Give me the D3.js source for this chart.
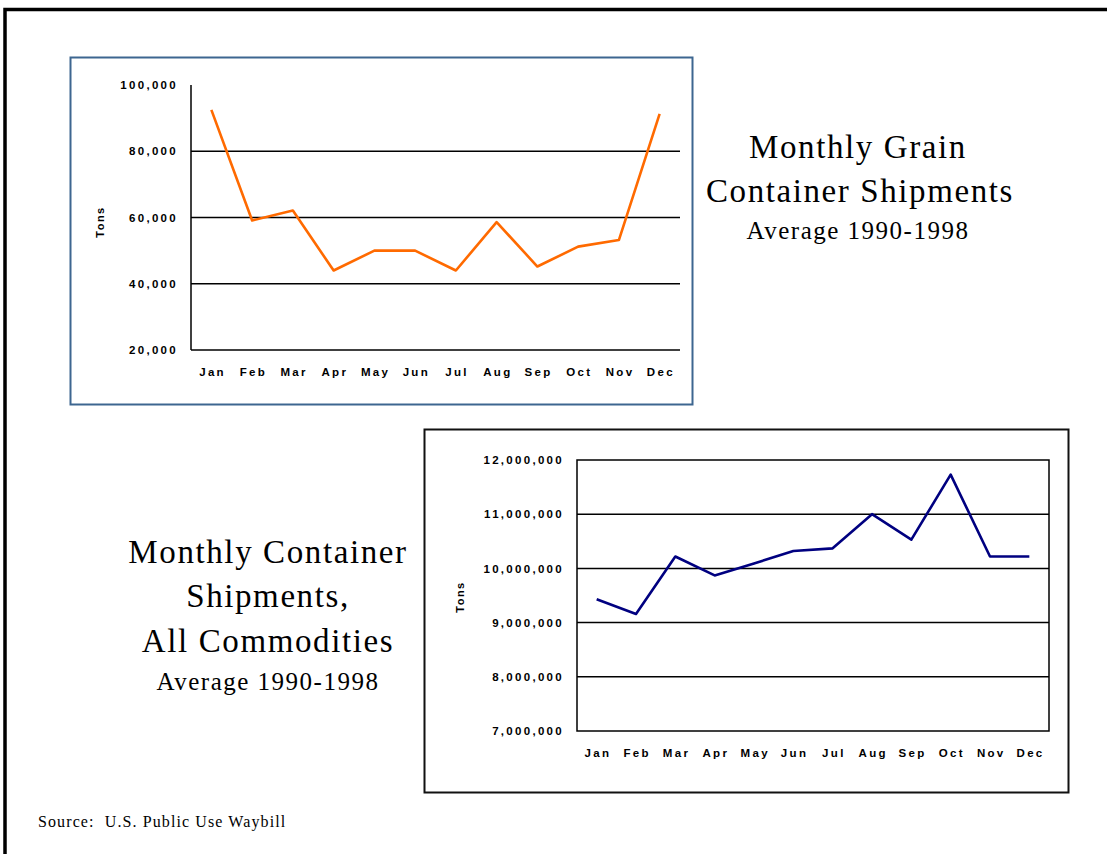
<!DOCTYPE html>
<html><head><meta charset="utf-8">
<script src="https://cdn.jsdelivr.net/npm/d3@7"></script>
<style>
body{margin:0;background:#fff}
.tick text{font-family:"Liberation Sans",Arial,sans-serif;font-weight:bold;font-size:11.5px;fill:#000;letter-spacing:2.3px}
.ttl{font-family:"Liberation Serif","Times New Roman",serif;fill:#000;white-space:pre}
</style>
</head><body><svg id="c" width="1107" height="854"></svg>
<script>
const months = ["Jan","Feb","Mar","Apr","May","Jun","Jul","Aug","Sep","Oct","Nov","Dec"];
const grainTons = [92500, 59100, 62100, 44000, 50000, 50000, 44000, 58600, 45200, 51200, 53200, 91300];
const allTons = [9430000, 9160000, 10220000, 9870000, 10090000, 10320000, 10370000, 11000000, 10530000, 11730000, 10220000, 10220000];
const grainTicks = [20000, 40000, 60000, 80000, 100000];
const allTicks = [7000000, 8000000, 9000000, 10000000, 11000000, 12000000];

const svg = d3.select("#c");
const fmt = d3.format(",");

// outer frame
svg.append("path").attr("d","M5,854 V9.5 H1107").attr("fill","none").attr("stroke","#000").attr("stroke-width",3.5);

// ---------- Top chart ----------
svg.append("rect").attr("x",70.5).attr("y",57.5).attr("width",622).attr("height",347)
  .attr("fill","none").attr("stroke","#3d6690").attr("stroke-width",2);

const t = {l:191, r:680, t:85, b:350};
const tx = d3.scaleBand().domain(months).range([t.l, t.r]);
const ty = d3.scaleLinear().domain([20000,100000]).range([t.b, t.t]);
const tg = svg.append("g");
tg.append("g").selectAll("line").data(grainTicks.slice(1,4)).join("line")
  .attr("x1",t.l).attr("x2",t.r).attr("y1",d=>ty(d)).attr("y2",d=>ty(d))
  .attr("stroke","#000").attr("stroke-width",1.5);
tg.append("line").attr("x1",t.l).attr("x2",t.r).attr("y1",t.b).attr("y2",t.b).attr("stroke","#000").attr("stroke-width",1.5);
tg.append("line").attr("x1",t.l).attr("x2",t.l).attr("y1",t.t).attr("y2",t.b).attr("stroke","#000").attr("stroke-width",1.5);
const tya = tg.append("g").attr("transform",`translate(${t.l},0)`)
  .call(d3.axisLeft(ty).tickValues(grainTicks).tickFormat(fmt).tickSize(0).tickPadding(13));
tya.select(".domain").remove();
const txa = tg.append("g").attr("transform",`translate(0,${t.b})`)
  .call(d3.axisBottom(tx).tickSize(0).tickPadding(18));
txa.select(".domain").remove();
txa.selectAll(".tick text").attr("dx",1.2);
tg.append("text").attr("transform","translate(104,222) rotate(-90)").attr("text-anchor","middle")
  .attr("font-family","Liberation Sans,Arial,sans-serif").attr("font-weight","bold").attr("font-size",11).attr("letter-spacing",1.5).text("Tons");
tg.append("path").datum(grainTons)
  .attr("d", d3.line().x((d,i)=>tx(months[i])+tx.bandwidth()/2).y(d=>ty(d)))
  .attr("fill","none").attr("stroke","#ff6a00").attr("stroke-width",2.6).attr("stroke-linejoin","round");

// top title
const tt = svg.append("g").attr("class","ttl").attr("text-anchor","middle");
tt.append("text").attr("x",858).attr("y",158).attr("font-size",33).attr("letter-spacing",1.6).text("Monthly Grain");
tt.append("text").attr("x",860).attr("y",202).attr("font-size",33).attr("letter-spacing",1.6).text("Container Shipments");
tt.append("text").attr("x",858).attr("y",239).attr("font-size",25).attr("letter-spacing",1.5).text("Average 1990-1998");

// ---------- Bottom chart ----------
svg.append("rect").attr("x",424.5).attr("y",429.5).attr("width",644).attr("height",363)
  .attr("fill","none").attr("stroke","#111").attr("stroke-width",2);

const b = {l:577, r:1049, t:460, b:731};
const bx = d3.scaleBand().domain(months).range([b.l, b.r]);
const by = d3.scaleLinear().domain([7000000,12000000]).range([b.b, b.t]);
const bg = svg.append("g");
bg.append("g").selectAll("line").data(allTicks.slice(1,5)).join("line")
  .attr("x1",b.l).attr("x2",b.r).attr("y1",d=>by(d)).attr("y2",d=>by(d))
  .attr("stroke","#000").attr("stroke-width",1.5);
bg.append("rect").attr("x",b.l).attr("y",b.t).attr("width",b.r-b.l).attr("height",b.b-b.t)
  .attr("fill","none").attr("stroke","#000").attr("stroke-width",1.5);
const bya = bg.append("g").attr("transform",`translate(${b.l},0)`)
  .call(d3.axisLeft(by).tickValues(allTicks).tickFormat(fmt).tickSize(0).tickPadding(13));
bya.select(".domain").remove();
const bxa = bg.append("g").attr("transform",`translate(0,${b.b})`)
  .call(d3.axisBottom(bx).tickSize(0).tickPadding(18));
bxa.select(".domain").remove();
bxa.selectAll(".tick text").attr("dx",1.2);
bg.append("text").attr("transform","translate(464,597) rotate(-90)").attr("text-anchor","middle")
  .attr("font-family","Liberation Sans,Arial,sans-serif").attr("font-weight","bold").attr("font-size",11).attr("letter-spacing",1.5).text("Tons");
bg.append("path").datum(allTons)
  .attr("d", d3.line().x((d,i)=>bx(months[i])+bx.bandwidth()/2).y(d=>by(d)))
  .attr("fill","none").attr("stroke","#000080").attr("stroke-width",2.6).attr("stroke-linejoin","round");

// bottom title
const bt = svg.append("g").attr("class","ttl").attr("text-anchor","middle");
bt.append("text").attr("x",268).attr("y",563).attr("font-size",33).attr("letter-spacing",1.6).text("Monthly Container");
bt.append("text").attr("x",268).attr("y",607).attr("font-size",33).attr("letter-spacing",1.6).text("Shipments,");
bt.append("text").attr("x",268).attr("y",652).attr("font-size",33).attr("letter-spacing",1.6).text("All Commodities");
bt.append("text").attr("x",268).attr("y",690).attr("font-size",25).attr("letter-spacing",1.5).text("Average 1990-1998");

// source
svg.append("text").attr("class","ttl").attr("x",38).attr("y",827).attr("font-size",16).attr("letter-spacing",1.1).text("Source:  U.S. Public Use Waybill");
</script>
</body></html>
